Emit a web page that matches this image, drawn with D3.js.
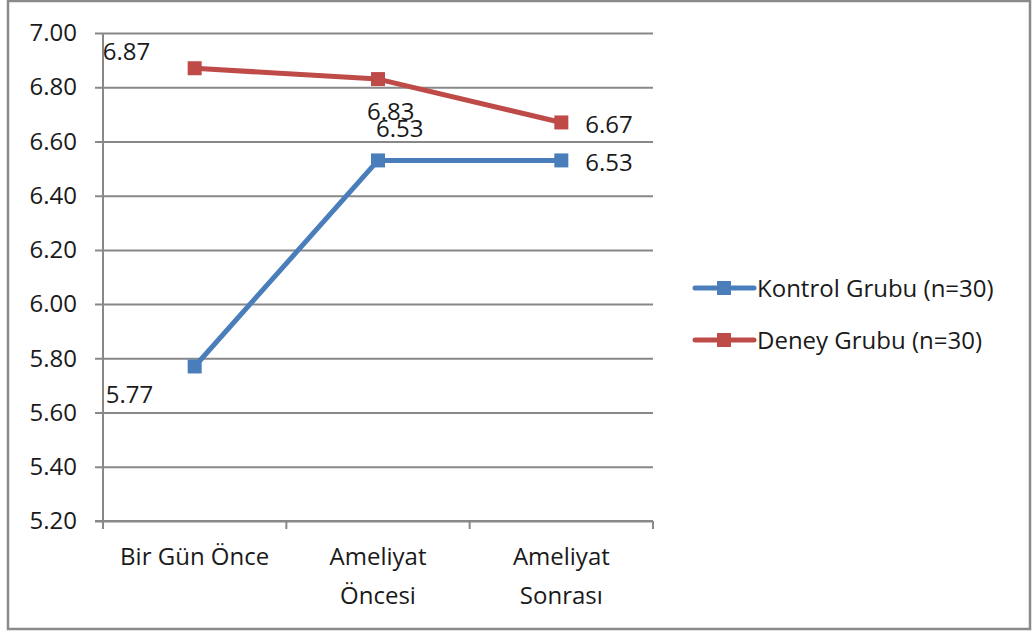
<!DOCTYPE html>
<html>
<head>
<meta charset="utf-8">
<script src="https://cdn.jsdelivr.net/npm/d3@7"></script>
<style>
  html, body { margin: 0; padding: 0; background: #fff; }
  svg text { font-family: "Open Sans", "Liberation Sans", sans-serif; fill: #1a1a1a; }
</style>
</head>
<body>
<svg id="chart" width="1032" height="634"></svg>
<script>
// Category labels (lines of each x-axis label)
const categories = ["Bir Gün Önce", "Ameliyat Öncesi", "Ameliyat Sonrası"];
const categoryLines = [["Bir Gün Önce"], ["Ameliyat", "Öncesi"], ["Ameliyat", "Sonrası"]];

// Series values
const kontrolValues = [5.77, 6.53, 6.53];
const deneyValues = [6.87, 6.83, 6.67];

// Value label placement for each point
const kontrolLabelPos = ["belowLeft", "above", "right"];
const deneyLabelPos = ["aboveLeft", "below", "right"];

// Y-axis ticks
const yTicks = [5.20, 5.40, 5.60, 5.80, 6.00, 6.20, 6.40, 6.60, 6.80, 7.00];

const series = [
  { name: "Kontrol Grubu (n=30)", values: kontrolValues, color: "#4a7ebb", labels: kontrolLabelPos },
  { name: "Deney Grubu (n=30)", values: deneyValues, color: "#be4b48", labels: deneyLabelPos }
];

const svg = d3.select("#chart");
const plot = { left: 103, right: 653, top: 33, bottom: 521 };
const gridColor = "#888888";
const fontSize = 24;

// Outer frame
svg.append("rect")
  .attr("x", 8).attr("y", 1)
  .attr("width", 1022).attr("height", 628)
  .attr("fill", "#fff")
  .attr("stroke", "#8a8a8a").attr("stroke-width", 2.5);

const x = d3.scaleBand().domain(categories).range([plot.left, plot.right]);
const y = d3.scaleLinear().domain([5.2, 7.0]).range([plot.bottom, plot.top]);
const cx = c => x(c) + x.bandwidth() / 2;

// Horizontal gridlines with left tick marks
const yAxis = d3.axisLeft(y)
  .tickValues(yTicks)
  .tickFormat(d3.format(".2f"))
  .tickSize(-(plot.right - plot.left + 8))
  .tickPadding(26);
const gy = svg.append("g")
  .attr("transform", `translate(${plot.left - 8},0)`)
  .call(yAxis);
gy.select(".domain").remove();
gy.selectAll(".tick line")
  .attr("x1", 0)
  .attr("stroke", gridColor).attr("stroke-width", 2);
gy.selectAll(".tick text")
  .attr("font-size", fontSize)
  .attr("x", -(26 - 8));

// Vertical axis line
svg.append("line")
  .attr("x1", plot.left).attr("x2", plot.left)
  .attr("y1", plot.top).attr("y2", plot.bottom + 8)
  .attr("stroke", gridColor).attr("stroke-width", 2);

// Category axis with tick marks between categories
const xAxis = d3.axisBottom(x).tickSize(0).tickFormat("");
const gx = svg.append("g")
  .attr("transform", `translate(0,${plot.bottom})`)
  .call(xAxis);
gx.select(".domain").remove();
svg.append("line")
  .attr("x1", plot.left - 8).attr("x2", plot.right)
  .attr("y1", plot.bottom).attr("y2", plot.bottom)
  .attr("stroke", gridColor).attr("stroke-width", 2);
const boundaries = categories.map(c => x(c)).concat([plot.right]);
svg.append("g").selectAll("line")
  .data(boundaries)
  .join("line")
  .attr("x1", d => d).attr("x2", d => d)
  .attr("y1", plot.bottom).attr("y2", plot.bottom + 8)
  .attr("stroke", gridColor).attr("stroke-width", 2);

// Category labels
categories.forEach((c, i) => {
  const t = svg.append("text")
    .attr("text-anchor", "middle")
    .attr("font-size", fontSize)
    .attr("x", cx(c))
    .attr("y", 565);
  categoryLines[i].forEach((ln, j) => {
    t.append("tspan").attr("x", cx(c)).attr("dy", j === 0 ? 0 : 39).text(ln);
  });
});

// Lines, markers, value labels
const line = d3.line().x((d, i) => cx(categories[i])).y(d => y(d));
const ms = 14;

// Offsets (dx, dy) of a value label's start/baseline relative to its point
const labelOffset = {
  right: [24, 11],
  above: [-2, -23],
  below: [-11, 41],
  aboveLeft: [-92, -8],
  belowLeft: [-89, 37]
};

series.forEach(s => {
  svg.append("path")
    .datum(s.values)
    .attr("d", line)
    .attr("fill", "none")
    .attr("stroke", s.color)
    .attr("stroke-width", 5)
    .attr("stroke-linejoin", "round");

  svg.append("g").selectAll("rect")
    .data(s.values)
    .join("rect")
    .attr("x", (d, i) => cx(categories[i]) - ms / 2)
    .attr("y", d => y(d) - ms / 2)
    .attr("width", ms).attr("height", ms)
    .attr("fill", s.color);

  svg.append("g").selectAll("text")
    .data(s.values)
    .join("text")
    .attr("font-size", fontSize)
    .attr("x", (d, i) => cx(categories[i]) + labelOffset[s.labels[i]][0])
    .attr("y", (d, i) => y(d) + labelOffset[s.labels[i]][1])
    .text(d => d.toFixed(2));
});

// Legend
const legend = svg.append("g");
series.forEach((s, i) => {
  const ly = 288 + i * 52;
  legend.append("line")
    .attr("x1", 695).attr("x2", 754)
    .attr("y1", ly).attr("y2", ly)
    .attr("stroke", s.color).attr("stroke-width", 5)
    .attr("stroke-linecap", "round");
  legend.append("rect")
    .attr("x", 724 - ms / 2).attr("y", ly - ms / 2)
    .attr("width", ms).attr("height", ms)
    .attr("fill", s.color);
  legend.append("text")
    .attr("x", 757).attr("y", ly + 9)
    .attr("font-size", fontSize)
    .text(s.name);
});
</script>
</body>
</html>
